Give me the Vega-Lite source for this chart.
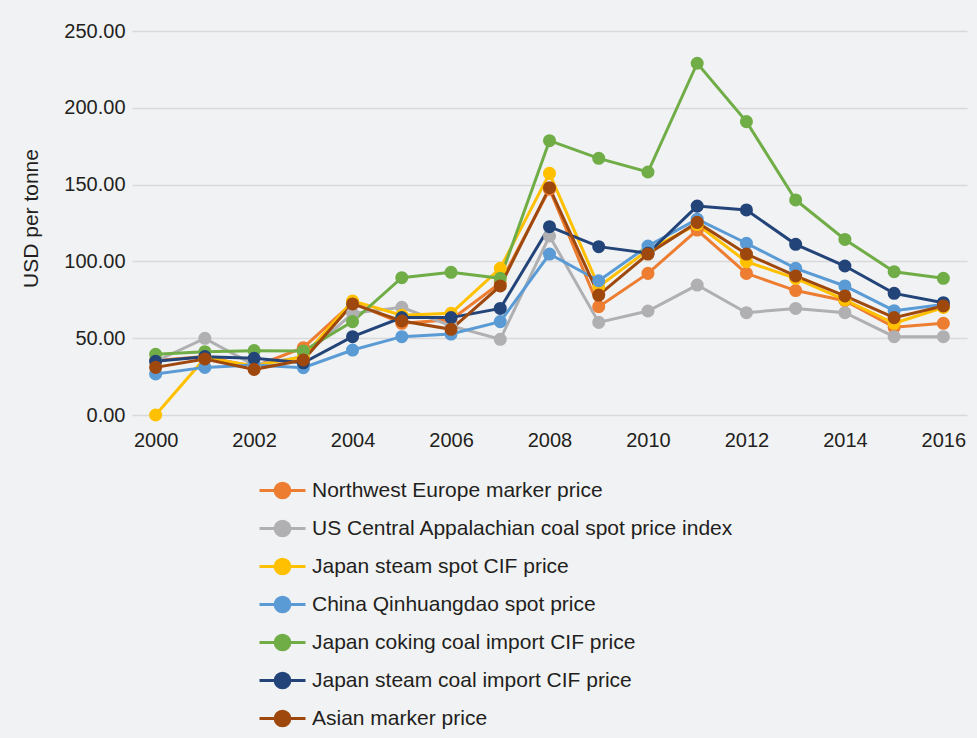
{
  "$schema": "https://vega.github.io/schema/vega-lite/v6.json",
  "autosize": {"type": "none"},
  "width": 835,
  "height": 384,
  "padding": {"left": 132, "top": 31, "right": 10, "bottom": 323},
  "background": "#f1f2f4",
  "config": {
    "view": {"stroke": null},
    "font": "Liberation Sans",
    "axis": {"labelFont": "Liberation Sans", "titleFont": "Liberation Sans", "labelColor": "#231f20", "titleColor": "#231f20", "labelFontSize": 20, "titleFontSize": 21, "titleFontWeight": "normal"}
  },
  "data": {"values": [
    {"year": 2000, "series": "Northwest Europe marker price", "value": 35.5},
    {"year": 2001, "series": "Northwest Europe marker price", "value": 38},
    {"year": 2002, "series": "Northwest Europe marker price", "value": 31.5},
    {"year": 2003, "series": "Northwest Europe marker price", "value": 43.8},
    {"year": 2004, "series": "Northwest Europe marker price", "value": 73},
    {"year": 2005, "series": "Northwest Europe marker price", "value": 59.7},
    {"year": 2006, "series": "Northwest Europe marker price", "value": 62},
    {"year": 2007, "series": "Northwest Europe marker price", "value": 86},
    {"year": 2008, "series": "Northwest Europe marker price", "value": 147},
    {"year": 2009, "series": "Northwest Europe marker price", "value": 70.5},
    {"year": 2010, "series": "Northwest Europe marker price", "value": 92.2},
    {"year": 2011, "series": "Northwest Europe marker price", "value": 120.4},
    {"year": 2012, "series": "Northwest Europe marker price", "value": 92.2},
    {"year": 2013, "series": "Northwest Europe marker price", "value": 81},
    {"year": 2014, "series": "Northwest Europe marker price", "value": 74.4},
    {"year": 2015, "series": "Northwest Europe marker price", "value": 57.1},
    {"year": 2016, "series": "Northwest Europe marker price", "value": 59.7},

    {"year": 2000, "series": "US Central Appalachian coal spot price index", "value": 35},
    {"year": 2001, "series": "US Central Appalachian coal spot price index", "value": 49.9},
    {"year": 2002, "series": "US Central Appalachian coal spot price index", "value": 32.5},
    {"year": 2003, "series": "US Central Appalachian coal spot price index", "value": 38},
    {"year": 2004, "series": "US Central Appalachian coal spot price index", "value": 66.2},
    {"year": 2005, "series": "US Central Appalachian coal spot price index", "value": 70.1},
    {"year": 2006, "series": "US Central Appalachian coal spot price index", "value": 58},
    {"year": 2007, "series": "US Central Appalachian coal spot price index", "value": 49.3},
    {"year": 2008, "series": "US Central Appalachian coal spot price index", "value": 116.5},
    {"year": 2009, "series": "US Central Appalachian coal spot price index", "value": 60.3},
    {"year": 2010, "series": "US Central Appalachian coal spot price index", "value": 67.7},
    {"year": 2011, "series": "US Central Appalachian coal spot price index", "value": 84.6},
    {"year": 2012, "series": "US Central Appalachian coal spot price index", "value": 66.6},
    {"year": 2013, "series": "US Central Appalachian coal spot price index", "value": 69.4},
    {"year": 2014, "series": "US Central Appalachian coal spot price index", "value": 66.6},
    {"year": 2015, "series": "US Central Appalachian coal spot price index", "value": 51},
    {"year": 2016, "series": "US Central Appalachian coal spot price index", "value": 51},

    {"year": 2000, "series": "Japan steam spot CIF price", "value": 0},
    {"year": 2001, "series": "Japan steam spot CIF price", "value": 37},
    {"year": 2002, "series": "Japan steam spot CIF price", "value": 32},
    {"year": 2003, "series": "Japan steam spot CIF price", "value": 38},
    {"year": 2004, "series": "Japan steam spot CIF price", "value": 74.2},
    {"year": 2005, "series": "Japan steam spot CIF price", "value": 65},
    {"year": 2006, "series": "Japan steam spot CIF price", "value": 66.2},
    {"year": 2007, "series": "Japan steam spot CIF price", "value": 95.5},
    {"year": 2008, "series": "Japan steam spot CIF price", "value": 157.3},
    {"year": 2009, "series": "Japan steam spot CIF price", "value": 83.5},
    {"year": 2010, "series": "Japan steam spot CIF price", "value": 107.4},
    {"year": 2011, "series": "Japan steam spot CIF price", "value": 124},
    {"year": 2012, "series": "Japan steam spot CIF price", "value": 99.8},
    {"year": 2013, "series": "Japan steam spot CIF price", "value": 89},
    {"year": 2014, "series": "Japan steam spot CIF price", "value": 75},
    {"year": 2015, "series": "Japan steam spot CIF price", "value": 59.7},
    {"year": 2016, "series": "Japan steam spot CIF price", "value": 70},

    {"year": 2000, "series": "China Qinhuangdao spot price", "value": 26.7},
    {"year": 2001, "series": "China Qinhuangdao spot price", "value": 31},
    {"year": 2002, "series": "China Qinhuangdao spot price", "value": 32.5},
    {"year": 2003, "series": "China Qinhuangdao spot price", "value": 30.8},
    {"year": 2004, "series": "China Qinhuangdao spot price", "value": 42.3},
    {"year": 2005, "series": "China Qinhuangdao spot price", "value": 51},
    {"year": 2006, "series": "China Qinhuangdao spot price", "value": 52.7},
    {"year": 2007, "series": "China Qinhuangdao spot price", "value": 60.8},
    {"year": 2008, "series": "China Qinhuangdao spot price", "value": 104.8},
    {"year": 2009, "series": "China Qinhuangdao spot price", "value": 87.4},
    {"year": 2010, "series": "China Qinhuangdao spot price", "value": 110},
    {"year": 2011, "series": "China Qinhuangdao spot price", "value": 127.5},
    {"year": 2012, "series": "China Qinhuangdao spot price", "value": 111.8},
    {"year": 2013, "series": "China Qinhuangdao spot price", "value": 95.5},
    {"year": 2014, "series": "China Qinhuangdao spot price", "value": 84},
    {"year": 2015, "series": "China Qinhuangdao spot price", "value": 67.9},
    {"year": 2016, "series": "China Qinhuangdao spot price", "value": 72},

    {"year": 2000, "series": "Japan coking coal import CIF price", "value": 39.5},
    {"year": 2001, "series": "Japan coking coal import CIF price", "value": 41.2},
    {"year": 2002, "series": "Japan coking coal import CIF price", "value": 41.9},
    {"year": 2003, "series": "Japan coking coal import CIF price", "value": 41.7},
    {"year": 2004, "series": "Japan coking coal import CIF price", "value": 60.8},
    {"year": 2005, "series": "Japan coking coal import CIF price", "value": 89.4},
    {"year": 2006, "series": "Japan coking coal import CIF price", "value": 92.9},
    {"year": 2007, "series": "Japan coking coal import CIF price", "value": 89},
    {"year": 2008, "series": "Japan coking coal import CIF price", "value": 178.6},
    {"year": 2009, "series": "Japan coking coal import CIF price", "value": 167.1},
    {"year": 2010, "series": "Japan coking coal import CIF price", "value": 158.2},
    {"year": 2011, "series": "Japan coking coal import CIF price", "value": 229},
    {"year": 2012, "series": "Japan coking coal import CIF price", "value": 191},
    {"year": 2013, "series": "Japan coking coal import CIF price", "value": 140},
    {"year": 2014, "series": "Japan coking coal import CIF price", "value": 114.3},
    {"year": 2015, "series": "Japan coking coal import CIF price", "value": 93.3},
    {"year": 2016, "series": "Japan coking coal import CIF price", "value": 89},

    {"year": 2000, "series": "Japan steam coal import CIF price", "value": 35},
    {"year": 2001, "series": "Japan steam coal import CIF price", "value": 38},
    {"year": 2002, "series": "Japan steam coal import CIF price", "value": 36.9},
    {"year": 2003, "series": "Japan steam coal import CIF price", "value": 34},
    {"year": 2004, "series": "Japan steam coal import CIF price", "value": 51},
    {"year": 2005, "series": "Japan steam coal import CIF price", "value": 63.4},
    {"year": 2006, "series": "Japan steam coal import CIF price", "value": 63.4},
    {"year": 2007, "series": "Japan steam coal import CIF price", "value": 69.4},
    {"year": 2008, "series": "Japan steam coal import CIF price", "value": 122.6},
    {"year": 2009, "series": "Japan steam coal import CIF price", "value": 109.6},
    {"year": 2010, "series": "Japan steam coal import CIF price", "value": 105.3},
    {"year": 2011, "series": "Japan steam coal import CIF price", "value": 136},
    {"year": 2012, "series": "Japan steam coal import CIF price", "value": 133.5},
    {"year": 2013, "series": "Japan steam coal import CIF price", "value": 111.1},
    {"year": 2014, "series": "Japan steam coal import CIF price", "value": 97},
    {"year": 2015, "series": "Japan steam coal import CIF price", "value": 79.2},
    {"year": 2016, "series": "Japan steam coal import CIF price", "value": 73.1},

    {"year": 2000, "series": "Asian marker price", "value": 31},
    {"year": 2001, "series": "Asian marker price", "value": 36.5},
    {"year": 2002, "series": "Asian marker price", "value": 29.7},
    {"year": 2003, "series": "Asian marker price", "value": 35.8},
    {"year": 2004, "series": "Asian marker price", "value": 72.3},
    {"year": 2005, "series": "Asian marker price", "value": 61.2},
    {"year": 2006, "series": "Asian marker price", "value": 55.8},
    {"year": 2007, "series": "Asian marker price", "value": 84},
    {"year": 2008, "series": "Asian marker price", "value": 148},
    {"year": 2009, "series": "Asian marker price", "value": 78.1},
    {"year": 2010, "series": "Asian marker price", "value": 104.8},
    {"year": 2011, "series": "Asian marker price", "value": 125.4},
    {"year": 2012, "series": "Asian marker price", "value": 104.8},
    {"year": 2013, "series": "Asian marker price", "value": 90.5},
    {"year": 2014, "series": "Asian marker price", "value": 77.5},
    {"year": 2015, "series": "Asian marker price", "value": 63.4},
    {"year": 2016, "series": "Asian marker price", "value": 71}
  ]},
  "mark": {"type": "line", "strokeWidth": 3, "point": {"filled": true, "size": 170, "opacity": 1}},
  "encoding": {
    "x": {
      "field": "year", "type": "quantitative",
      "scale": {"domain": [1999.52, 2016.48], "nice": false, "zero": false},
      "axis": {"values": [2000, 2002, 2004, 2006, 2008, 2010, 2012, 2014, 2016], "format": "d", "grid": false, "domain": false, "ticks": false, "labelPadding": 15, "title": null}
    },
    "y": {
      "field": "value", "type": "quantitative",
      "scale": {"domain": [0, 250], "nice": false},
      "axis": {"values": [0, 50, 100, 150, 200, 250], "format": ".2f", "grid": true, "gridColor": "#d9d9dc", "gridWidth": 1.5, "domain": false, "ticks": false, "labelPadding": 7, "title": "USD per tonne", "titlePadding": 22, "titleY": 187}
    },
    "color": {
      "field": "series", "type": "nominal",
      "scale": {
        "domain": ["Northwest Europe marker price", "US Central Appalachian coal spot price index", "Japan steam spot CIF price", "China Qinhuangdao spot price", "Japan coking coal import CIF price", "Japan steam coal import CIF price", "Asian marker price"],
        "range": ["#ED7D31", "#B0B0B3", "#FFC000", "#5B9BD5", "#70AD47", "#234479", "#9E480E"]
      },
      "legend": {
        "orient": "none", "legendX": 126, "legendY": 435, "direction": "vertical", "title": null, "padding": 0,
        "symbolType": "M-1,0L1,0M-0.32,0A0.32,0.32,0,1,1,0.32,0A0.32,0.32,0,1,1,-0.32,0Z",
        "symbolSize": 2116, "symbolStrokeWidth": 3,
        "labelFontSize": 21, "labelFont": "Liberation Sans", "labelColor": "#231f20", "labelLimit": 700,
        "labelOffset": 5, "rowPadding": -1,
        "encode": {"symbols": {"update": {"fill": {"scale": "color", "field": "value"}, "stroke": {"scale": "color", "field": "value"}, "opacity": {"value": 1}}}}
      }
    },
    "order": {"field": "year"}
  }
}
